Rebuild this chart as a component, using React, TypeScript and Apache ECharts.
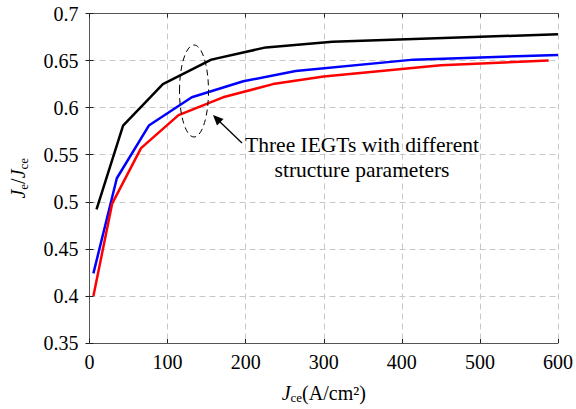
import React, { useEffect, useRef } from "react";
import * as echarts from "echarts";

const blackX = [9, 43, 94, 156, 226, 311, 600];
const blackY = [0.492, 0.581, 0.625, 0.651, 0.664, 0.670, 0.678];
const blueX = [5, 35, 76, 131, 197, 264, 415, 600];
const blueY = [0.424, 0.525, 0.581, 0.611, 0.628, 0.639, 0.651, 0.656];
const redX = [5, 29, 66, 114, 171, 235, 300, 450, 588];
const redY = [0.4, 0.498, 0.557, 0.592, 0.611, 0.625, 0.633, 0.645, 0.650];

const xTicks = [0, 100, 200, 300, 400, 500, 600];
const yTicks = [0.35, 0.4, 0.45, 0.5, 0.55, 0.6, 0.65, 0.7];
const noteText = ["Three IEGTs with different", "structure parameters"];

const FONT = "Liberation Serif";

function pairs(xs: number[], ys: number[]) {
  return xs.map((x, i) => [x, ys[i]]);
}

export default function App() {
  const ref = useRef<HTMLDivElement>(null);
  useEffect(() => {
    if (!ref.current) return;
    document.body.style.margin = "0";
    const chart = echarts.init(ref.current, undefined, { renderer: "svg" });
    const axisLine = { show: true, lineStyle: { color: "#555", width: 1 } };
    const tick = { show: true, inside: true, length: 4, lineStyle: { color: "#222" } };
    const split = { show: true, lineStyle: { color: "#c8c8c8", type: [6, 4] as any, width: 1 } };
    const labRich = { t: { fontFamily: FONT, fontSize: 20, color: "#000" } };
    const sub = {
      i: { fontFamily: FONT, fontSize: 20, fontStyle: "italic", color: "#000" },
      n: { fontFamily: FONT, fontSize: 20, color: "#000" },
      s: { fontFamily: FONT, fontSize: 13, color: "#000", padding: [10, 0, 0, 0] },
    };
    chart.setOption({
      animation: false,
      textStyle: { fontFamily: FONT },
      grid: { left: 85, right: 18, top: 13.5, bottom: 59.5 },
      xAxis: [
        {
          type: "value",
          min: 0,
          max: 600,
          interval: 100,
          axisLine,
          axisTick: tick,
          splitLine: split,
          axisLabel: {
            fontFamily: FONT,
            fontSize: 20,
            color: "#000",
            margin: 9,
            rich: labRich,
            formatter: (v: number) => (xTicks.includes(v) ? `{t|${v}}` : ""),
          },
          name: "{i|J}{s|ce}{n|(A/cm²)}",
          nameLocation: "middle",
          nameGap: 38,
          nameTextStyle: { rich: sub },
        },
        {
          type: "value",
          position: "top",
          min: 0,
          max: 600,
          interval: 100,
          axisLine,
          axisTick: tick,
          splitLine: { show: false },
          axisLabel: { show: false },
        },
      ],
      yAxis: [
        {
          type: "value",
          min: 0.35,
          max: 0.7,
          interval: 0.05,
          axisLine,
          axisTick: tick,
          splitLine: split,
          axisLabel: {
            fontFamily: FONT,
            fontSize: 20,
            color: "#000",
            margin: 11,
            rich: labRich,
            formatter: (v: number) => {
              const r = Math.round(v * 100) / 100;
              return yTicks.includes(r) ? `{t|${r}}` : "";
            },
          },
          name: "{i|J}{s|e}{n|/}{i|J}{s|ce}",
          nameLocation: "middle",
          nameGap: 60,
          nameRotate: 90,
          nameTextStyle: { rich: sub },
        },
        {
          type: "value",
          position: "right",
          min: 0.35,
          max: 0.7,
          interval: 0.05,
          axisLine,
          axisTick: tick,
          splitLine: { show: false },
          axisLabel: { show: false },
        },
      ],
      series: [
        { type: "line", data: pairs(blackX, blackY), showSymbol: false, lineStyle: { color: "#000", width: 2.5 }, z: 3 },
        { type: "line", data: pairs(blueX, blueY), showSymbol: false, lineStyle: { color: "#0000ff", width: 2.5 }, z: 3 },
        { type: "line", data: pairs(redX, redY), showSymbol: false, lineStyle: { color: "#ff0000", width: 2.5 }, z: 3 },
      ],
      graphic: [
        {
          type: "ellipse",
          shape: { cx: 194, cy: 91, rx: 14.5, ry: 46 },
          style: { fill: "none", stroke: "#000", lineWidth: 1, lineDash: [6, 4] },
          z: 10,
        },
        {
          type: "line",
          shape: { x1: 242, y1: 143, x2: 218, y2: 120 },
          style: { stroke: "#000", lineWidth: 1.3 },
          z: 10,
        },
        {
          type: "polygon",
          shape: { points: [[213, 115], [223.5, 119], [217, 125.5]] },
          style: { fill: "#000" },
          z: 10,
        },
        {
          type: "text",
          x: 362,
          y: 132,
          style: {
            text: noteText.join("\n"),
            font: `21.5px ${FONT}`,
            fill: "#000",
            textAlign: "center",
            lineHeight: 25,
          },
          z: 10,
        },
      ],
    });
    return () => chart.dispose();
  }, []);
  return <div ref={ref} style={{ width: 576, height: 409, background: "#fff" }} />;
}
